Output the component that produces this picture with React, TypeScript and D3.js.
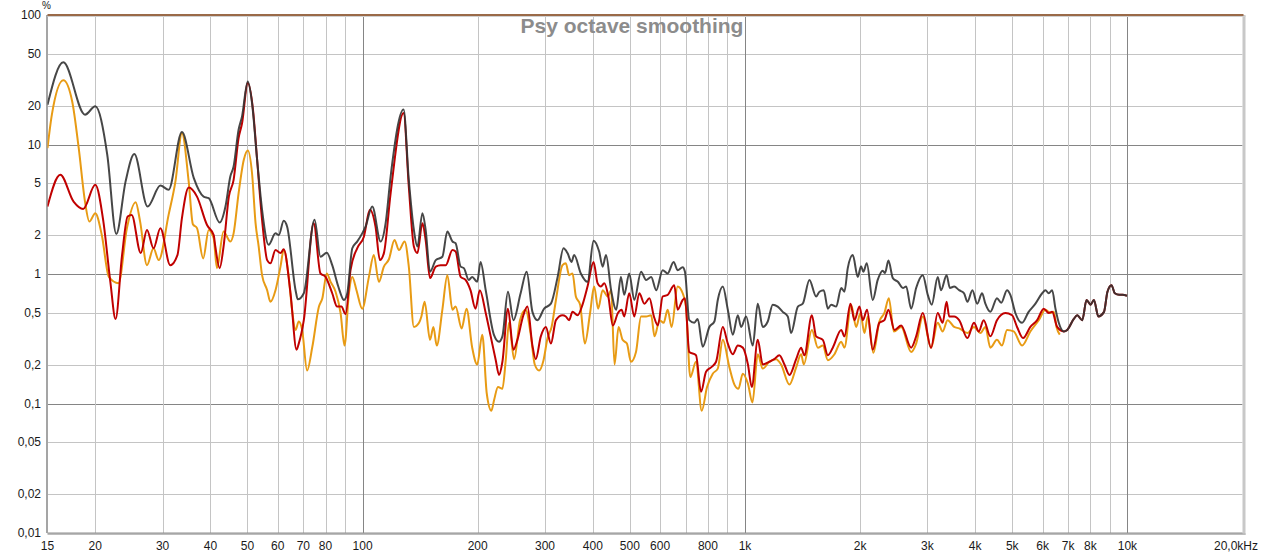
import React from "react";
import * as d3 from "d3";

type Pt = [number, number];

// frequency (Hz), distortion (%)
const darkCurve: Pt[] = [
  [15, 20.3], [16.5, 43.1], [18.8, 17.0], [20, 19.7], [21.5, 8.3], [22.7, 2.04], [24.0, 5.17], [25.3, 8.43],
  [27.4, 3.32], [29.6, 4.82], [31.1, 4.47], [33.7, 12.5], [36.2, 5.5], [38.4, 3.96], [39.6, 3.85], [42.3, 2.5],
  [43.8, 3.32], [45.1, 5.66], [46.0, 6.76], [47.4, 13], [48.4, 16.5], [50.1, 30.7], [51.4, 20.9], [53.0, 7.6],
  [54.6, 3.13], [56.8, 1.68], [59.2, 2.06], [60.4, 2.0], [62.2, 2.58], [63.5, 2.32], [66.8, 0.75], [67.7, 0.637],
  [70.2, 0.71], [74.9, 2.62], [77.6, 1.36], [80.6, 1.46], [83.3, 1.17], [86.4, 0.8], [89.4, 0.63], [91.2, 0.71],
  [94.0, 1.58], [96.8, 1.78], [99.8, 2.06], [101.8, 2.32], [106, 3.32], [111.5, 1.78], [114.9, 2.47], [118.4, 5.66],
  [128, 18.6], [132.1, 5.33], [136.2, 2.19], [139.1, 1.63], [143.4, 2.95], [146.2, 2.19], [150.1, 1.04], [155.4, 1.28],
  [161.7, 1.36], [166.6, 2.13], [171.8, 1.78], [175.1, 1.73], [180.5, 1.14], [184, 1.11], [189.6, 0.9], [193.5, 0.95],
  [199.4, 0.87], [203.5, 1.24], [209.9, 0.75], [220.7, 0.337], [227.4, 0.3], [232.1, 0.33], [240, 0.73], [248, 0.44],
  [259, 0.71], [268.6, 1.04], [278.1, 0.51], [286.6, 0.44], [298.4, 0.54], [310.8, 0.59], [323.7, 0.95], [335.3, 1.58],
  [343.5, 1.45], [351.9, 1.24], [357.5, 1.4], [372.2, 1.01], [387.5, 0.87], [401.8, 1.81], [415.6, 1.49], [424.4, 1.14],
  [433.1, 1.4], [446.6, 0.75], [460.6, 0.53], [473.7, 0.95], [483.3, 0.69], [498.1, 1.01], [513.5, 0.63], [534.8, 1.04],
  [551.4, 0.9], [568.5, 0.95], [586, 0.75], [609.1, 1.07], [627.7, 1.01], [650.8, 1.24], [666.6, 1.07], [687.1, 1.13],
  [696.7, 1.04], [715.1, 0.44], [737, 0.42], [752.3, 0.45], [775.4, 0.274], [807, 0.39], [831.7, 0.43], [849, 0.63],
  [875, 0.8], [901.9, 0.53], [929.4, 0.34], [957.8, 0.48], [977, 0.39], [1007, 0.47], [1048, 0.28], [1080, 0.59],
  [1113, 0.39], [1147, 0.43], [1182, 0.58], [1218, 0.56], [1255, 0.51], [1294, 0.47], [1320, 0.35], [1375, 0.56],
  [1416, 0.59], [1474, 0.9], [1535, 0.67], [1566, 0.73], [1607, 0.75], [1647, 0.54], [1680, 0.58], [1732, 0.56],
  [1785, 0.78], [1820, 0.73], [1857, 1.11], [1914, 1.4], [1972, 0.95], [2012, 1.15], [2040, 1.04], [2082, 1.21],
  [2158, 0.63], [2224, 0.9], [2292, 1.06], [2324, 1.02], [2372, 1.27], [2436, 0.93], [2511, 0.87], [2588, 0.78],
  [2640, 0.8], [2720, 0.54], [2803, 0.78], [2917, 0.98], [3006, 0.69], [3079, 0.58], [3192, 0.95], [3255, 0.75],
  [3367, 0.98], [3434, 0.78], [3524, 0.8], [3631, 0.75], [3741, 0.71], [3817, 0.61], [3933, 0.75], [4049, 0.59],
  [4169, 0.71], [4252, 0.59], [4382, 0.51], [4560, 0.65], [4679, 0.6], [4844, 0.75], [4943, 0.69], [5094, 0.5],
  [5303, 0.42], [5518, 0.51], [5749, 0.59], [5986, 0.71], [6106, 0.75], [6228, 0.71], [6357, 0.75], [6485, 0.54],
  [6616, 0.42],
];

const redCurve: Pt[] = [
  [15, 3.32], [16.2, 5.83], [17.55, 3.62], [18.6, 3.18], [20, 4.88], [21.0, 2.54], [21.9, 0.87], [22.6, 0.449],
  [23.5, 1.4], [24.3, 2.78], [24.9, 2.86], [26.3, 1.45], [27.3, 2.19], [28.4, 1.58], [29.6, 2.26], [31.4, 1.17],
  [32.8, 1.4], [33.7, 2.7], [35.1, 4.65], [36.9, 3.96], [39.2, 2.39], [40.8, 2.0], [41.2, 1.63], [42.3, 1.11],
  [43.3, 1.63], [44.7, 3.96], [46.0, 5.33], [47.4, 11.2], [48.4, 14.6], [50.1, 29.8], [51.7, 18.5], [53.0, 7.6],
  [54.6, 2.62], [56.3, 1.28], [57.4, 1.21], [59.2, 1.53], [61.0, 1.45], [62.2, 1.55], [64.8, 0.71], [67.2, 0.26],
  [68.1, 0.29], [70.2, 0.44], [74.5, 2.47], [77.6, 1.01], [80, 0.95], [83.3, 0.71], [85.8, 0.56], [88, 0.56],
  [90.3, 0.49], [93, 1.07], [96.8, 1.58], [100.8, 1.94], [104.5, 3.13], [108.1, 2.32], [111, 1.28], [113.7, 1.45],
  [118.4, 4.2], [128, 17.5], [132.1, 4.73], [136.2, 1.63], [139.1, 1.45], [143.4, 2.47], [146.2, 1.83], [150.1, 0.93],
  [155.4, 1.14], [160, 1.17], [165, 1.17], [171.8, 1.53], [175.1, 1.49], [180.5, 0.95], [185.9, 0.9], [191.5, 0.75],
  [197.4, 0.54], [202.6, 0.75], [209.9, 0.5], [216.3, 0.33], [223, 0.216], [227.4, 0.166], [232.1, 0.21], [240, 0.54],
  [248, 0.26], [254, 0.31], [263.3, 0.48], [269.8, 0.56], [278.1, 0.28], [283.7, 0.22], [292.5, 0.33], [301.5, 0.39],
  [310.8, 0.29], [320.4, 0.44], [333.3, 0.48], [340, 0.47], [346.8, 0.44], [354, 0.51], [364.9, 0.48], [376, 0.58],
  [387.5, 0.8], [401.8, 1.24], [411.6, 0.85], [420, 0.8], [428.7, 0.85], [439.3, 0.67], [451.3, 0.4], [465.4, 0.5],
  [475.7, 0.53], [483.3, 0.47], [498.1, 0.71], [513.5, 0.47], [529.3, 0.71], [545.7, 0.59], [562.6, 0.65], [577.9, 0.47],
  [592.1, 0.4], [609.1, 0.67], [627.7, 0.69], [653.2, 0.82], [666.6, 0.53], [687.1, 0.63], [696.7, 0.65], [715.1, 0.25],
  [744.6, 0.236], [767.5, 0.123], [791, 0.176], [815.3, 0.19], [840.3, 0.21], [875, 0.39], [901.9, 0.29], [929.4, 0.24],
  [957.8, 0.28], [987, 0.27], [1018, 0.2], [1042, 0.134], [1080, 0.31], [1113, 0.2], [1158, 0.21], [1193, 0.22],
  [1230, 0.236], [1268, 0.2], [1307, 0.166], [1361, 0.22], [1402, 0.27], [1430, 0.236], [1496, 0.48], [1535, 0.33],
  [1598, 0.31], [1647, 0.236], [1697, 0.27], [1785, 0.37], [1820, 0.33], [1887, 0.59], [1933, 0.44], [1992, 0.56],
  [2033, 0.44], [2086, 0.53], [2158, 0.26], [2246, 0.42], [2315, 0.44], [2372, 0.53], [2460, 0.37], [2562, 0.4],
  [2720, 0.27], [2803, 0.33], [2917, 0.5], [3066, 0.27], [3192, 0.5], [3288, 0.42], [3367, 0.61], [3420, 0.47],
  [3524, 0.47], [3631, 0.44], [3817, 0.32], [3970, 0.42], [4087, 0.36], [4209, 0.44], [4382, 0.33], [4560, 0.44],
  [4795, 0.5], [4994, 0.48], [5146, 0.39], [5335, 0.32], [5575, 0.39], [5808, 0.44], [6044, 0.54], [6228, 0.5],
  [6357, 0.51], [6552, 0.39],
];

// above ~6.7 kHz the dark and red traces coincide
const sharedTail: Pt[] = [
  [6818, 0.36], [6960, 0.37], [7243, 0.45], [7394, 0.48], [7620, 0.44], [7820, 0.63], [8011, 0.58], [8174, 0.63],
  [8397, 0.47], [8688, 0.51], [8869, 0.73], [9087, 0.82], [9271, 0.71], [9517, 0.69], [9716, 0.69], [9974, 0.68],
];

const orangeCurve: Pt[] = [
  [15, 9.38], [15.4, 17], [16.5, 31.3], [17.4, 21.6], [18.1, 9.4], [18.8, 3.62], [19.3, 2.54], [20, 2.95],
  [20.8, 2.0], [21.7, 0.95], [23.0, 0.85], [24.2, 2.26], [25.5, 3.58], [26.2, 2.54], [27.3, 1.17], [28.4, 1.58],
  [29.3, 1.28], [31.1, 2.86], [32.4, 5.17], [33.7, 12.2], [35.1, 5.17], [36.0, 2.42], [36.9, 2.26], [38.3, 1.32],
  [39.6, 2.19], [40.8, 1.89], [41.6, 1.11], [43.3, 2.13], [45.1, 1.78], [46.0, 2.06], [47.4, 4.2], [48.9, 7.6],
  [50.1, 9.0], [51.4, 6.0], [52.5, 2.47], [53.5, 1.63], [54.6, 0.98], [56.3, 0.75], [57.4, 0.61], [59.2, 0.75],
  [61.0, 1.14], [62.2, 1.53], [64.1, 0.95], [65.4, 0.53], [66.8, 0.37], [68.1, 0.43], [69.5, 0.37], [71.6, 0.18],
  [73.9, 0.274], [76.9, 0.56], [78.5, 0.65], [80.6, 1.01], [82.5, 0.87], [85, 0.73], [87.6, 0.5], [89.7, 0.28],
  [92.1, 0.71], [94.0, 0.95], [96.4, 0.75], [99.8, 0.54], [103.9, 0.95], [107, 1.4], [110.3, 0.87], [113.7, 1.14],
  [117.2, 1.3], [121.2, 1.83], [124.5, 1.53], [128.8, 1.78], [132.1, 1.14], [136.2, 0.39], [140.5, 0.42], [142.5, 0.47],
  [145.3, 0.61], [150.1, 0.31], [153.2, 0.39], [156.3, 0.28], [161.7, 0.53], [166.6, 0.98], [171.8, 0.53], [175.1, 0.56],
  [181.6, 0.38], [187, 0.54], [193.5, 0.27], [199.4, 0.2], [205.6, 0.34], [211.2, 0.12], [217.2, 0.088], [220.7, 0.106],
  [226, 0.134], [232.1, 0.13], [236.8, 0.216], [241.5, 0.42], [249, 0.22], [258, 0.44], [267, 0.53], [275.3, 0.34],
  [282, 0.2], [289.5, 0.18], [297.3, 0.216], [304.6, 0.32], [312.1, 0.39], [320.4, 0.63], [333.3, 1.17], [340, 1.21],
  [346.8, 0.98], [354, 1.01], [361.2, 0.67], [370.6, 0.58], [381.3, 0.29], [393.5, 0.5], [403.3, 0.8], [413.1, 0.54],
  [424.4, 0.75], [437.6, 0.67], [446.6, 0.75], [455.9, 0.2], [467.1, 0.39], [478.6, 0.31], [491.2, 0.29], [503.3, 0.21],
  [518.8, 0.25], [534.8, 0.47], [551.4, 0.47], [568.5, 0.48], [580, 0.33], [597.9, 0.44], [612.8, 0.42], [627.7, 0.53],
  [643, 0.39], [666.6, 0.8], [687.1, 0.71], [701, 0.56], [719.4, 0.16], [744.6, 0.21], [770.7, 0.088], [795.8, 0.134],
  [823.7, 0.17], [849, 0.186], [875, 0.31], [910.6, 0.19], [938.4, 0.14], [961.2, 0.13], [987, 0.17], [1018, 0.142],
  [1046, 0.102], [1080, 0.24], [1113, 0.186], [1158, 0.21], [1206, 0.22], [1243, 0.2], [1307, 0.14], [1361, 0.19],
  [1402, 0.24], [1425, 0.2], [1496, 0.37], [1551, 0.27], [1598, 0.28], [1647, 0.216], [1714, 0.24], [1785, 0.3],
  [1820, 0.27], [1895, 0.58], [1953, 0.39], [2004, 0.5], [2053, 0.35], [2095, 0.47], [2166, 0.246], [2246, 0.43],
  [2315, 0.5], [2378, 0.65], [2451, 0.36], [2562, 0.39], [2720, 0.25], [2803, 0.29], [2917, 0.47], [3066, 0.27],
  [3192, 0.42], [3288, 0.36], [3387, 0.44], [3524, 0.39], [3631, 0.38], [3817, 0.35], [3970, 0.39], [4127, 0.35],
  [4252, 0.39], [4382, 0.27], [4560, 0.31], [4700, 0.28], [4844, 0.37], [5043, 0.36], [5303, 0.28], [5575, 0.36],
  [5865, 0.44], [6106, 0.53], [6293, 0.5], [6419, 0.51], [6525, 0.39], [6656, 0.34],
];

const xTicks = [15, 20, 30, 40, 50, 60, 70, 80, 100, 200, 300, 400, 500, 600, 800, 1000, 2000, 3000, 4000, 5000, 6000, 7000, 8000, 10000, 20000];
const xTickLabels = ["15", "20", "30", "40", "50", "60", "70", "80", "100", "200", "300", "400", "500", "600", "800", "1k", "2k", "3k", "4k", "5k", "6k", "7k", "8k", "10k", "20,0kHz"];
const xGrid = [20, 30, 40, 50, 60, 70, 80, 90, 100, 200, 300, 400, 500, 600, 700, 800, 900, 1000, 2000, 3000, 4000, 5000, 6000, 7000, 8000, 9000, 10000];
const yTicks = [100, 50, 20, 10, 5, 2, 1, 0.5, 0.2, 0.1, 0.05, 0.02, 0.01];
const yTickLabels = ["100", "50", "20", "10", "5", "2", "1", "0,5", "0,2", "0,1", "0,05", "0,02", "0,01"];
const decades = [10, 1, 0.1, 100, 1000, 10000];

const W = 1265;
const H = 555;
const left = 47.5, right = 1242.5, top = 15, bottom = 533;

const App = () => {
  const x = d3.scaleLog().domain([15, 20000]).range([left, right]);
  const y = d3.scaleLog().domain([0.01, 100]).range([bottom, top]);
  const line = d3
    .line<Pt>()
    .x((d) => x(d[0]))
    .y((d) => y(d[1]))
    .curve(d3.curveMonotoneX);

  const font = "'Liberation Sans', Arial, sans-serif";

  return (
    <>
      <style>{"body{margin:0}"}</style>
      <svg width={W} height={H} style={{ display: "block", background: "#fff" }}>
        <defs>
          <clipPath id="plot">
            <rect x={left} y={top} width={right - left} height={bottom - top} />
          </clipPath>
        </defs>

        {/* grid */}
        {yTicks.slice(1, -1).map((v) => (
          <line key={"gy" + v} x1={left} x2={right} y1={Math.round(y(v)) + 0.5} y2={Math.round(y(v)) + 0.5}
            stroke={decades.includes(v) ? "#858585" : "#c4c4c4"} strokeWidth={1} />
        ))}
        {xGrid.map((v) => (
          <line key={"gx" + v} x1={Math.round(x(v)) + 0.5} x2={Math.round(x(v)) + 0.5} y1={top} y2={bottom}
            stroke={decades.includes(v) ? "#858585" : "#c4c4c4"} strokeWidth={1} />
        ))}

        <text x={632} y={33} textAnchor="middle" fontFamily={font} fontWeight="bold" fontSize={21} fill="#8c8c8c">
          Psy octave smoothing
        </text>

        {/* frame */}
        <line x1={right + 1.5} x2={right + 1.5} y1={top} y2={bottom + 2} stroke="#c8c8c8" strokeWidth={3} />
        <line x1={left} x2={right + 3} y1={bottom + 1} y2={bottom + 1} stroke="#bdbdbd" strokeWidth={2} />
        <line x1={left} x2={right} y1={bottom} y2={bottom} stroke="#8f8f8f" strokeWidth={1} />
        <line x1={left - 0.5} x2={left - 0.5} y1={top} y2={bottom} stroke="#a5a5a5" strokeWidth={2} />
        <line x1={left} x2={right + 3} y1={top + 1.5} y2={top + 1.5} stroke="#d0d0d0" strokeWidth={1} />
        <line x1={left} x2={right + 1} y1={top} y2={top} stroke="#9a6a48" strokeWidth={2} />

        {/* traces */}
        <g clipPath="url(#plot)" fill="none" strokeWidth={2} strokeLinejoin="round">
          <path d={line(orangeCurve) ?? ""} stroke="#e89b14" />
          <path d={line(redCurve.concat(sharedTail)) ?? ""} stroke="#c00000" />
          <path d={line(darkCurve.concat(sharedTail)) ?? ""} stroke="#333333" strokeOpacity={0.9} />
        </g>

        {/* labels */}
        <g fontFamily={font} fontSize={12} fill="#1a1a1a">
          {yTicks.map((v, i) => (
            <text key={"yl" + v} x={41} y={y(v) + 4} textAnchor="end">{yTickLabels[i]}</text>
          ))}
          <text x={42} y={9} textAnchor="start" fontSize={10}>%</text>
          {xTicks.map((v, i) => (
            <text key={"xl" + v} x={v === 20000 ? 1236 : x(v)} y={550} textAnchor="middle">{xTickLabels[i]}</text>
          ))}
        </g>
      </svg>
    </>
  );
};

export default App;
